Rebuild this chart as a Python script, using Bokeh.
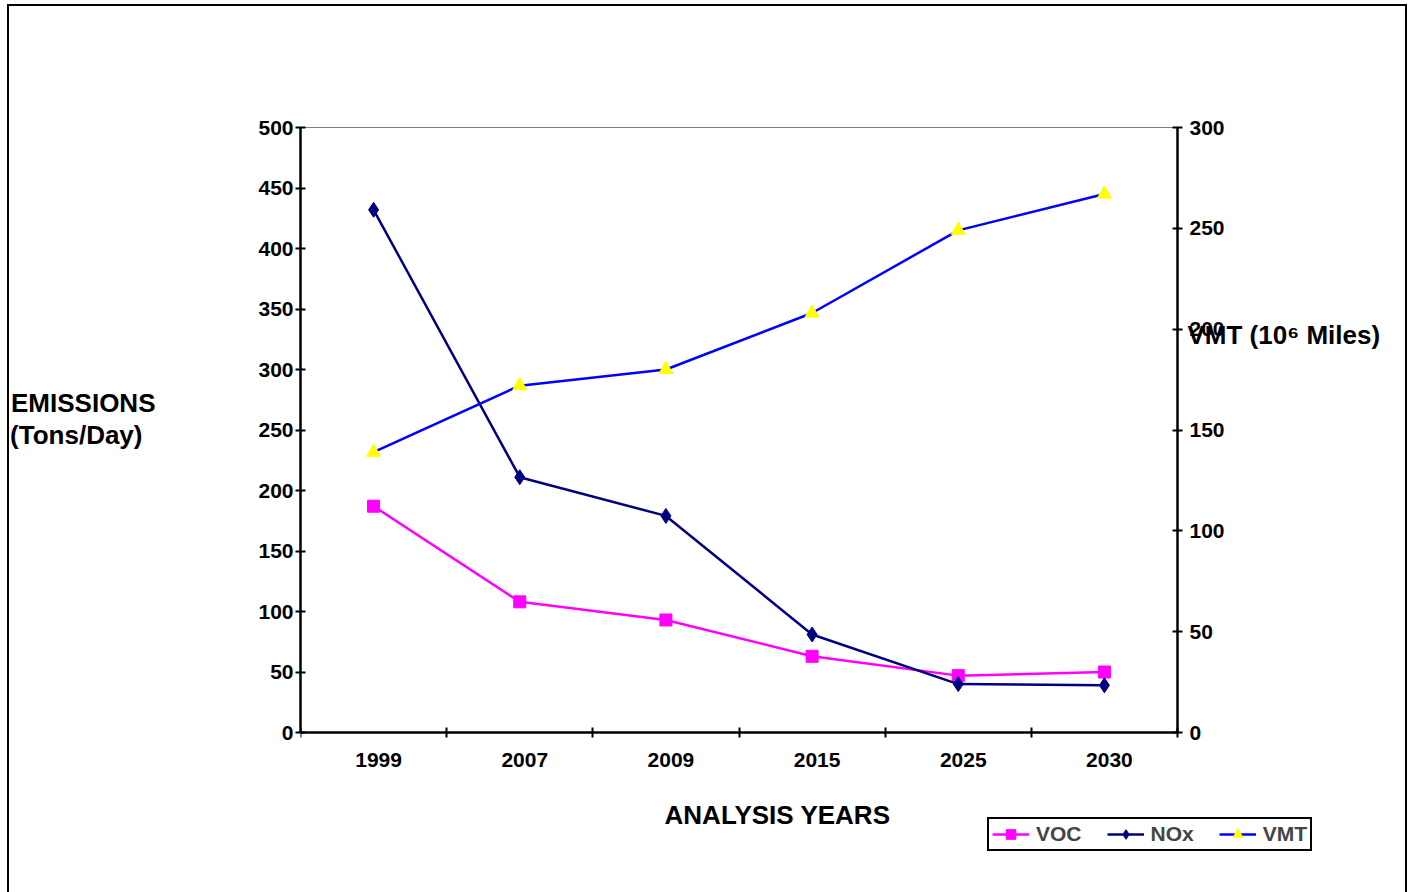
from bokeh.plotting import figure
from bokeh.models import (Range1d, LinearAxis, FixedTicker, Legend, LegendItem,
                          ColumnDataSource, Label)
from bokeh.embed import file_html
from bokeh.resources import INLINE

# ---- data ----
years = ["1999", "2007", "2009", "2015", "2025", "2030"]
voc = [187, 108, 93, 63, 47, 50]
nox = [432, 211, 179, 81, 40, 39]
vmt = [139, 172, 180, 208, 249, 267]
left_ticks = [0, 50, 100, 150, 200, 250, 300, 350, 400, 450, 500]
right_ticks = [0, 50, 100, 150, 200, 250, 300]
left_max, right_max = 500, 300

n = len(years)
xpos = list(range(n))
src = ColumnDataSource(dict(x=xpos, voc=voc, nox=nox, vmt=vmt))

# ---- layout (canvas pixels) ----
W, H = 1411, 892
FL, FR, FT = 300, 1177, 127      # plot-area left / right / top
AXIS_Y = 732                     # where value 0 sits
FB = 852                         # frame extended below the axis (room for legend)
FRF = 1330                       # frame extended right of the right axis
FTF = 110                        # frame extended above the plot top
plot_h = AXIS_Y - FT
cat_w = (FR - FL) / n
pad_b = (FB - AXIS_Y) / plot_h
pad_t = (FT - FTF) / plot_h
x_lo, x_hi = -0.5, n - 0.5

def vy(cy, top):                 # canvas y -> value (text placement only)
    return (AXIS_Y - cy) / plot_h * top

def vx(cx):                      # canvas x -> x value (text placement only)
    return (cx - FL) / cat_w + x_lo

p = figure(width=W, height=H, output_backend="svg", toolbar_location=None,
           x_range=Range1d(x_lo, vx(FRF)),
           y_range=Range1d(-pad_b * left_max, left_max * (1 + pad_t)),
           x_axis_location=None, y_axis_location=None,
           min_border_left=FL, min_border_right=W - FRF,
           min_border_top=FTF, min_border_bottom=H - FB)
p.extra_y_ranges = {"vmt": Range1d(-pad_b * right_max, right_max * (1 + pad_t))}
p.xgrid.visible = False
p.ygrid.visible = False
p.outline_line_color = None
p.background_fill_color = "white"
p.border_fill_alpha = 0
p.styles = {
    "background": ("linear-gradient(#000,#000) 7px 4px / 2px 100% no-repeat, "
                   "linear-gradient(#000,#000) 7px 4px / 1400px 2px no-repeat, "
                   "linear-gradient(#000,#000) 1405px 4px / 2px 100% no-repeat, #fff"),
}

FONT = "Liberation Sans"
TICK_SIZE = "21px"
TITLE_SIZE = "26px"

def style_axis(ax, size=TICK_SIZE):
    ax.axis_line_color = "black"
    ax.axis_line_width = 2.5
    ax.major_tick_line_color = "black"
    ax.major_tick_line_width = 2
    ax.minor_tick_line_color = "black"
    ax.minor_tick_line_width = 2
    ax.major_label_text_font = FONT
    ax.major_label_text_font_style = "bold"
    ax.major_label_text_font_size = size
    ax.major_label_text_color = "black"

# top border line of the plot area (thin grey)
top_ax = LinearAxis(ticker=FixedTicker(ticks=[]), bounds=(x_lo, x_hi),
                    fixed_location=left_max,
                    axis_line_color="#808080", axis_line_width=1,
                    major_tick_line_color=None, minor_tick_line_color=None,
                    major_label_text_font_size="0px")
p.add_layout(top_ax, "above")

# bottom axis at value 0: labels near category centres, ticks at boundaries
lab_shift = 5 / cat_w
lab_x = [x + lab_shift for x in xpos]
xb = LinearAxis(ticker=FixedTicker(ticks=lab_x,
                                   minor_ticks=[i - 0.5 for i in range(n + 1)]),
                major_label_overrides={x: y for x, y in zip(lab_x, years)},
                fixed_location=0, bounds=(x_lo, x_hi))
style_axis(xb)
xb.major_tick_in = 0
xb.major_tick_out = 0
xb.minor_tick_in = 5
xb.minor_tick_out = 5
xb.major_label_standoff = 15
p.add_layout(xb, "below")

yl = LinearAxis(ticker=FixedTicker(ticks=left_ticks), bounds=(0, left_max))
style_axis(yl)
yl.major_tick_in = 5
yl.major_tick_out = 5
yl.major_label_standoff = 2
p.add_layout(yl, "left")

yr = LinearAxis(y_range_name="vmt", ticker=FixedTicker(ticks=right_ticks),
                bounds=(0, right_max), fixed_location=x_hi)
style_axis(yr)
yr.major_tick_in = 5
yr.major_tick_out = 5
yr.major_label_standoff = 7
p.add_layout(yr, "right")

# axis titles carried by label-only axes
def text_axis(texts, ys, range_name, side, standoff):
    kw = {} if range_name is None else {"y_range_name": range_name}
    ax = LinearAxis(ticker=FixedTicker(ticks=ys),
                    major_label_overrides={y: t for y, t in zip(ys, texts)}, **kw)
    ax.axis_line_color = None
    ax.major_tick_line_color = None
    ax.minor_tick_line_color = None
    ax.major_tick_out = 0
    ax.major_tick_in = 0
    ax.major_label_standoff = standoff
    ax.major_label_text_font = FONT
    ax.major_label_text_font_style = "bold"
    ax.major_label_text_font_size = TITLE_SIZE
    ax.major_label_text_color = "black"
    p.add_layout(ax, side)

text_axis(["(Tons/Day)"], [vy(434, left_max)], None, "left", 113)
text_axis(["EMISSIONS"], [vy(402, left_max)], None, "left", -148)
text_axis(["VMT (10\u2076 Miles)"], [vy(334, right_max)], "vmt", "right", -143)

# ---- series ----
l_voc = p.line("x", "voc", source=src, line_color="#FF00FF", line_width=2.5)
s_voc = p.scatter("x", "voc", source=src, marker="square", size=12,
                  fill_color="#FF00FF", line_color="#FF00FF")
l_nox = p.line("x", "nox", source=src, line_color="#000080", line_width=2.5)
s_nox = p.scatter("x", "nox", source=src, marker="diamond", size=15,
                  fill_color="#000080", line_color="#000080")
l_vmt = p.line("x", "vmt", source=src, y_range_name="vmt",
               line_color="#0000FF", line_width=2.5)
s_vmt = p.scatter("x", "vmt", source=src, y_range_name="vmt", marker="triangle",
                  size=14, fill_color="#FFFF00", line_color="#FFFF00")

# x-axis title
p.add_layout(Label(x=vx(777), y=vy(814, left_max),
                   text="ANALYSIS YEARS", text_align="center", text_baseline="middle",
                   text_font=FONT, text_font_style="bold", text_font_size=TITLE_SIZE,
                   text_color="black"))

legend = Legend(items=[LegendItem(label="VOC", renderers=[l_voc, s_voc]),
                       LegendItem(label="NOx", renderers=[l_nox, s_nox]),
                       LegendItem(label="VMT", renderers=[l_vmt, s_vmt])],
                orientation="horizontal", location=(987 - FL, FB - 851),
                padding=3, spacing=25, glyph_width=37, glyph_height=24,
                label_standoff=7, label_text_font=FONT,
                label_text_font_style="bold", label_text_font_size="21px",
                border_line_color="black", border_line_width=2.5,
                border_line_alpha=1.0,
                background_fill_alpha=0, margin=0)
p.add_layout(legend, "center")

open("out.html", "w").write(file_html(p, INLINE))
